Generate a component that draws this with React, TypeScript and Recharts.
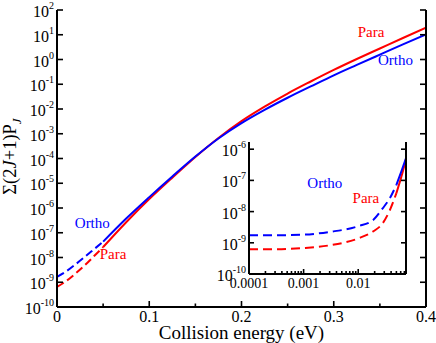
import React from "react";
import { LineChart, Line, XAxis, YAxis, ReferenceDot, CartesianGrid, Label } from "recharts";

const FONT = '"Liberation Serif", "Times New Roman", Times, serif';
const RED = "#ff0000";
const BLUE = "#0000ff";

// main panel, collision energy in eV (linear)
const energies = [0, 0.01, 0.02, 0.03, 0.04, 0.05, 0.075, 0.1, 0.125, 0.15, 0.175, 0.2, 0.225, 0.25, 0.275, 0.3, 0.325, 0.35, 0.375, 0.4];
const orthoMain = [1.66e-9, 2.75e-9, 5.25e-9, 1.05e-8, 2.14e-8, 4.37e-8, 3.76e-7, 2.75e-6, 1.88e-5, 1.2e-4, 6.46e-4, 2.69e-3, 9.23e-3, 2.85e-2, 8.13e-2, 0.229, 0.603, 1.57, 4.07, 10.35];
const paraMain = [6.5e-10, 1.12e-9, 2.24e-9, 4.8e-9, 1.12e-8, 2.63e-8, 2.66e-7, 2.29e-6, 1.68e-5, 1.15e-4, 6.76e-4, 3.24e-3, 1.245e-2, 4.22e-2, 0.129, 0.38, 1.05, 2.79, 7.41, 19.3];

// inset, log energy axis
const insetEnergies = [1e-4, 3e-4, 1e-3, 3e-3, 0.01, 0.019, 0.028, 0.038, 0.05, 0.062, 0.075];
const orthoInset = [1.74e-9, 1.74e-9, 1.82e-9, 2.24e-9, 3.4e-9, 5.5e-9, 1.26e-8, 2.7e-8, 7.2e-8, 2.0e-7, 5.1e-7];
const paraInset = [6.2e-10, 6.2e-10, 6.8e-10, 8.3e-10, 1.38e-9, 2.34e-9, 4.2e-9, 1.12e-8, 3.9e-8, 1.35e-7, 4.8e-7];

// below this energy the curves are drawn dashed
const dashedBelow = 0.05;

const mainMajorX = [0, 0.1, 0.2, 0.3, 0.4];
const mainMinorX = [0.05, 0.15, 0.25, 0.35];
const mainYTicks = [1e-10, 1e-9, 1e-8, 1e-7, 1e-6, 1e-5, 1e-4, 1e-3, 1e-2, 1e-1, 1, 10, 100];

const insetMajorX = [1e-4, 1e-3, 1e-2];
const insetXLabels = ["0.0001", "0.001", "0.01"];
const insetMinorX = [2e-4, 3e-4, 4e-4, 5e-4, 6e-4, 7e-4, 8e-4, 9e-4, 2e-3, 3e-3, 4e-3, 5e-3, 6e-3, 7e-3, 8e-3, 9e-3, 2e-2, 3e-2, 4e-2, 5e-2, 6e-2, 7e-2];
const insetYTicks = [1e-10, 1e-9, 1e-8, 1e-7, 1e-6];

const mainNotes = [
  { text: "Ortho", e: 0.0193, v: 1.53e-7, color: BLUE },
  { text: "Para", e: 0.0463, v: 9.1e-9, color: RED },
  { text: "Para", e: 0.326, v: 7.9, color: RED },
  { text: "Ortho", e: 0.348, v: 0.6, color: BLUE },
];
const insetNotes = [
  { text: "Ortho", e: 1.17e-3, v: 5.6e-8, color: BLUE },
  { text: "Para", e: 7.9e-3, v: 1.86e-8, color: RED },
];

const rows = (xs: number[], ys: number[]) => xs.map((e, i) => ({ e, v: ys[i] }));
const dashed = (r: { e: number; v: number }[]) => r.filter((p) => p.e <= dashedBelow);
const solid = (r: { e: number; v: number }[]) => r.filter((p) => p.e >= dashedBelow);

const same = (a: number, b: number) => Math.abs(a - b) <= Math.abs(a) * 1e-6 + 1e-15;

function makeXTick(side: "bottom" | "top", major: number[], fmt: ((v: number, i: number) => string) | null, majorLen: number, minorLen: number, fontSize: number, gap: number) {
  return (props: any) => {
    const { x, y, payload } = props;
    const v = payload.value;
    const mi = major.findIndex((m) => same(m, v));
    const len = mi >= 0 ? majorLen : minorLen;
    const dir = side === "bottom" ? -1 : 1;
    return (
      <g>
        <line x1={x} x2={x} y1={y} y2={y + dir * len} stroke="#000" strokeWidth={1.6} />
        {fmt && mi >= 0 && (
          <text x={x} y={y + gap} textAnchor="middle" fontFamily={FONT} fontSize={fontSize} fill="#000">
            {fmt(v, mi)}
          </text>
        )}
      </g>
    );
  };
}

function makeYTick(side: "left" | "right", len: number, withLabel: boolean) {
  return (props: any) => {
    const { x, y, payload } = props;
    const dir = side === "left" ? 1 : -1;
    const exp = Math.round(Math.log10(payload.value));
    return (
      <g>
        <line x1={x} x2={x + dir * len} y1={y} y2={y} stroke="#000" strokeWidth={1.6} />
        {withLabel && (
          <text x={x - 3} y={y + 7} textAnchor="end" fontFamily={FONT} fontSize={16} fill="#000">
            <tspan>10</tspan>
            <tspan dy={-8} fontSize={10}>{exp}</tspan>
          </text>
        )}
      </g>
    );
  };
}

const noteShape = (text: string, color: string) => (p: any) => (
  <text x={p.cx} y={p.cy} fill={color} fontFamily={FONT} fontSize={15}>
    {text}
  </text>
);

const axisLine = { stroke: "#000", strokeWidth: 2 };

export default function App() {
  const orthoRows = rows(energies, orthoMain);
  const paraRows = rows(energies, paraMain);
  const orthoIn = rows(insetEnergies, orthoInset);
  const paraIn = rows(insetEnergies, paraInset);

  return (
    <div style={{ position: "absolute", left: 0, top: 0, width: 436, height: 343, background: "#fff" }}>
      <LineChart width={436} height={343} margin={{ top: 10, right: 0, bottom: 0, left: 0 }}>
        <XAxis
          xAxisId="b"
          type="number"
          dataKey="e"
          domain={[0, 0.4]}
          ticks={[...mainMajorX, ...mainMinorX].sort((a, b) => a - b)}
          interval={0}
          height={36}
          tickSize={0}
          tickMargin={0}
          tickLine={false}
          axisLine={axisLine}
          allowDataOverflow
          tick={makeXTick("bottom", mainMajorX, (v) => (v === 0 ? "0" : v.toFixed(1)), 6, 3.5, 16, 15)}
        >
          <Label
            content={(p: any) => {
              const vb = p.viewBox;
              return (
                <text x={vb.x + vb.width / 2} y={vb.y + 32} textAnchor="middle" fontFamily={FONT} fontSize={19} fill="#000">
                  Collision energy (eV)
                </text>
              );
            }}
          />
        </XAxis>
        <XAxis
          xAxisId="t"
          orientation="top"
          type="number"
          dataKey="e"
          domain={[0, 0.4]}
          ticks={[...mainMajorX, ...mainMinorX].sort((a, b) => a - b)}
          interval={0}
          height={0}
          tickSize={0}
          tickMargin={0}
          tickLine={false}
          axisLine={axisLine}
          allowDataOverflow
          tick={makeXTick("top", mainMajorX, null, 6, 3.5, 16, 0)}
        />
        <YAxis
          yAxisId="l"
          scale="log"
          type="number"
          domain={[1e-10, 100]}
          ticks={mainYTicks}
          interval={0}
          width={57}
          tickSize={0}
          tickMargin={0}
          tickLine={false}
          axisLine={axisLine}
          allowDataOverflow
          tick={makeYTick("left", 6, true)}
        >
          <Label
            content={(p: any) => {
              const vb = p.viewBox;
              const cx = vb.x + 16;
              const cy = vb.y + vb.height / 2 - 2;
              return (
                <text x={cx} y={cy} transform={`rotate(-90 ${cx} ${cy})`} textAnchor="middle" fontFamily={FONT} fontSize={18.5} fill="#000">
                  <tspan>Σ(2</tspan>
                  <tspan fontStyle="italic">J</tspan>
                  <tspan>+1)P</tspan>
                  <tspan dy={5} fontSize={13} fontStyle="italic">J</tspan>
                </text>
              );
            }}
          />
        </YAxis>
        <YAxis
          yAxisId="r"
          orientation="right"
          scale="log"
          type="number"
          domain={[1e-10, 100]}
          ticks={mainYTicks}
          interval={0}
          width={10}
          tickSize={0}
          tickMargin={0}
          tickLine={false}
          axisLine={axisLine}
          allowDataOverflow
          tick={makeYTick("right", 6, false)}
        />
        <Line xAxisId="b" yAxisId="l" data={dashed(paraRows)} dataKey="v" type="monotone" stroke={RED} strokeWidth={2} strokeDasharray="8 4" dot={false} isAnimationActive={false} />
        <Line xAxisId="b" yAxisId="l" data={dashed(orthoRows)} dataKey="v" type="monotone" stroke={BLUE} strokeWidth={2} strokeDasharray="8 4" dot={false} isAnimationActive={false} />
        <Line xAxisId="b" yAxisId="l" data={solid(paraRows)} dataKey="v" type="monotone" stroke={RED} strokeWidth={2} dot={false} isAnimationActive={false} />
        <Line xAxisId="b" yAxisId="l" data={solid(orthoRows)} dataKey="v" type="monotone" stroke={BLUE} strokeWidth={2} dot={false} isAnimationActive={false} />
        {mainNotes.map((n, i) => (
          <ReferenceDot key={i} xAxisId="b" yAxisId="l" x={n.e} y={n.v} r={0} ifOverflow="visible" shape={noteShape(n.text, n.color)} />
        ))}
      </LineChart>

      <div style={{ position: "absolute", left: 200, top: 130 }}>
        <LineChart width={215} height={170} margin={{ top: 12, right: 0, bottom: 0, left: 0 }}>
          <CartesianGrid xAxisId="b" yAxisId="l" horizontal={false} vertical={false} fill="#fff" />
          <XAxis
            xAxisId="b"
            type="number"
            scale="log"
            dataKey="e"
            domain={[1e-4, 0.075]}
            ticks={[...insetMajorX, ...insetMinorX].sort((a, b) => a - b)}
            interval={0}
            height={26}
            tickSize={0}
            tickMargin={0}
            tickLine={false}
            axisLine={axisLine}
            allowDataOverflow
            tick={makeXTick("bottom", insetMajorX, (_v, i) => insetXLabels[i], 5, 3, 14, 14)}
          />
          <XAxis
            xAxisId="t"
            orientation="top"
            type="number"
            scale="log"
            dataKey="e"
            domain={[1e-4, 0.075]}
            ticks={[...insetMajorX, ...insetMinorX].sort((a, b) => a - b)}
            interval={0}
            height={0}
            tickSize={0}
            tickMargin={0}
            tickLine={false}
            axisLine={axisLine}
            allowDataOverflow
            tick={makeXTick("top", insetMajorX, null, 5, 3, 14, 0)}
          />
          <YAxis
            yAxisId="l"
            scale="log"
            type="number"
            domain={[1e-10, 1.7e-6]}
            ticks={insetYTicks}
            interval={0}
            width={49}
            tickSize={0}
            tickMargin={0}
            tickLine={false}
            axisLine={axisLine}
            allowDataOverflow
            tick={makeYTick("left", 5, true)}
          />
          <YAxis
            yAxisId="r"
            orientation="right"
            scale="log"
            type="number"
            domain={[1e-10, 1.7e-6]}
            ticks={insetYTicks}
            interval={0}
            width={9}
            tickSize={0}
            tickMargin={0}
            tickLine={false}
            axisLine={axisLine}
            allowDataOverflow
            tick={makeYTick("right", 5, false)}
          />
          <Line xAxisId="b" yAxisId="l" data={dashed(paraIn)} dataKey="v" type="monotone" stroke={RED} strokeWidth={2} strokeDasharray="9 5" dot={false} isAnimationActive={false} />
          <Line xAxisId="b" yAxisId="l" data={dashed(orthoIn)} dataKey="v" type="monotone" stroke={BLUE} strokeWidth={2} strokeDasharray="9 5" dot={false} isAnimationActive={false} />
          <Line xAxisId="b" yAxisId="l" data={solid(paraIn)} dataKey="v" type="monotone" stroke={RED} strokeWidth={2} dot={false} isAnimationActive={false} />
          <Line xAxisId="b" yAxisId="l" data={solid(orthoIn)} dataKey="v" type="monotone" stroke={BLUE} strokeWidth={2} dot={false} isAnimationActive={false} />
          {insetNotes.map((n, i) => (
            <ReferenceDot key={i} xAxisId="b" yAxisId="l" x={n.e} y={n.v} r={0} ifOverflow="visible" shape={noteShape(n.text, n.color)} />
          ))}
        </LineChart>
      </div>
    </div>
  );
}
